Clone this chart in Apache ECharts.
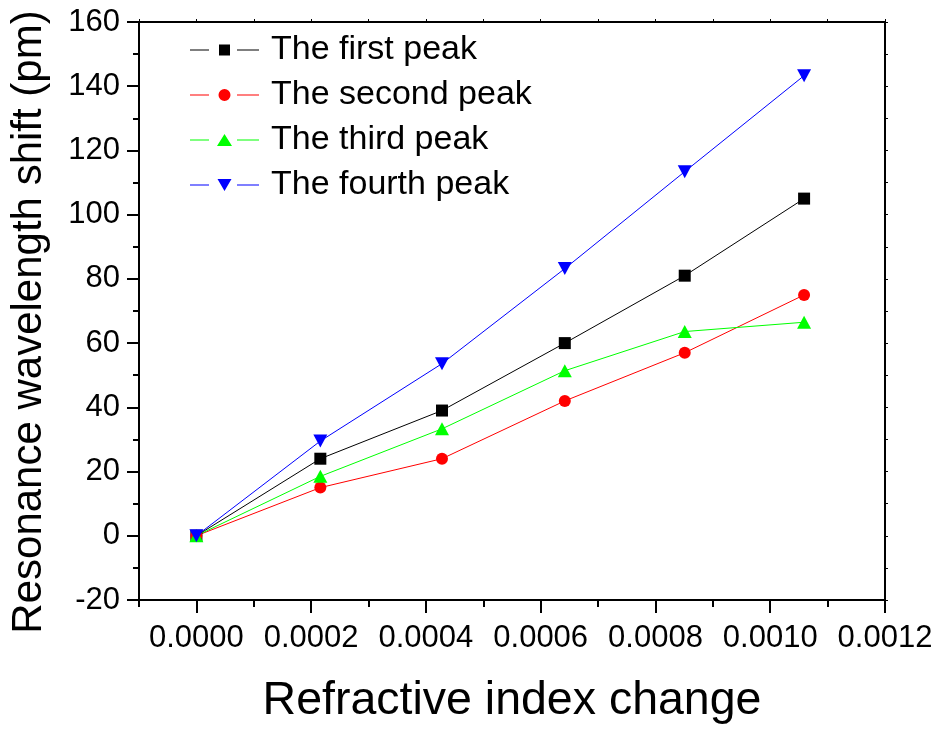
<!DOCTYPE html>
<html>
<head>
<meta charset="utf-8">
<script src="https://cdn.jsdelivr.net/npm/echarts@6/dist/echarts.min.js"></script>
<style>html,body{margin:0;padding:0;background:#fff}#c{width:941px;height:730px}</style>
</head>
<body>
<div id="c"></div>
<script>
const xValues = [0, 0.000216, 0.000428, 0.000642, 0.000851, 0.001059];
const firstPeak = [0, 24, 39, 60, 81, 105];
const secondPeak = [0, 15, 24, 42, 57, 75];
const thirdPeak = [0, 18.5, 33.3, 51.4, 63.6, 66.5];
const fourthPeak = [0, 29.5, 53.6, 83.2, 113.4, 143.3];
const seriesNames = ['The first peak', 'The second peak', 'The third peak', 'The fourth peak'];
const xTickLabels = [0, 0.0002, 0.0004, 0.0006, 0.0008, 0.0010, 0.0012];
const yTickLabels = [-20, 0, 20, 40, 60, 80, 100, 120, 140, 160];

const FONT = 'Liberation Sans, Arial, sans-serif';
const chart = echarts.init(document.getElementById('c'), null, {renderer: 'canvas'});

function pairs(ys) { return xValues.map((x, i) => [x, ys[i]]); }

const lineStyleAxis = {color: '#000', width: 2};
const triDown = 'path://M0,0L20,0L10,17.32Z';

// legend icons: line segment, gap, marker, gap, line segment (box 69 x 12)
const seg = 'M0,5.5L19,5.5L19,6.5L0,6.5Z M47,5.5L69,5.5L69,6.5L47,6.5Z ';
const legendIcons = [
  'path://' + seg + 'M29,0.5L40,0.5L40,11.5L29,11.5Z M34.5,0L34.5,12',
  'path://' + seg + 'M28.5,6A6,6 0 1,0 40.5,6A6,6 0 1,0 28.5,6Z',
  'path://' + seg + 'M27,12L42,12L34.5,0Z',
  'path://' + seg + 'M27.5,0L41.5,0L34.5,12Z'
];

const option = {
  animation: false,
  backgroundColor: '#fff',
  grid: {left: 137, right: 56, top: 22, bottom: 128, containLabel: false},
  legend: {
    orient: 'vertical',
    left: 185,
    top: 28,
    itemWidth: 69,
    itemHeight: 12,
    itemGap: 11,
    symbolKeepAspect: false,
    data: seriesNames.map((n, i) => ({name: n, icon: legendIcons[i]})),
    itemStyle: {borderWidth: 0},
    textStyle: {fontFamily: FONT, fontSize: 34, color: '#000', lineHeight: 34, padding: [0, 0, 0, 7]}
  },
  xAxis: [
    {
      type: 'value', position: 'bottom', min: -0.0001, max: 0.0012,
      axisLine: {show: true, onZero: false, lineStyle: lineStyleAxis},
      axisTick: {show: true, inside: false, length: 13, lineStyle: {width: 2, color: '#000'}, customValues: xTickLabels},
      axisLabel: {show: true, customValues: xTickLabels, margin: 23, fontFamily: FONT, fontSize: 31, color: '#000',
        formatter: v => v.toFixed(4)},
      splitLine: {show: false},
      name: 'Refractive index change', nameLocation: 'middle', nameGap: 78,
      nameTextStyle: {fontFamily: FONT, fontSize: 46.5, color: '#000'}
    },
    {
      type: 'value', position: 'bottom', min: -0.0001, max: 0.0012, interval: 0.0001,
      axisLine: {show: false, onZero: false},
      axisTick: {show: true, inside: false, length: 7, lineStyle: {width: 2, color: '#000'}},
      axisLabel: {show: false}, splitLine: {show: false}
    },
    {
      type: 'value', position: 'top', min: -0.0001, max: 0.0012, interval: 0.0001,
      axisLine: {show: true, onZero: false, lineStyle: lineStyleAxis},
      axisTick: {show: true, inside: false, length: 3, lineStyle: {width: 1, color: '#000'}},
      axisLabel: {show: false}, splitLine: {show: false}
    }
  ],
  yAxis: [
    {
      type: 'value', position: 'left', min: -20, max: 160, interval: 20,
      axisLine: {show: true, onZero: false, lineStyle: lineStyleAxis},
      axisTick: {show: true, inside: false, length: 12, lineStyle: {width: 2, color: '#000'}},
      minorTick: {show: true, splitNumber: 2, length: 6, lineStyle: {width: 2, color: '#000'}},
      axisLabel: {margin: 19, fontFamily: FONT, fontSize: 31, color: '#000',
        formatter: v => yTickLabels.includes(v) ? String(v) : ''},
      splitLine: {show: false}, minorSplitLine: {show: false},
      name: 'Resonance wavelength shift (pm)', nameLocation: 'middle', nameGap: 89,
      nameTextStyle: {fontFamily: FONT, fontSize: 42, color: '#000', padding: [0, 22, 0, 0]}
    },
    {
      type: 'value', position: 'right', min: -20, max: 160, interval: 10,
      axisLine: {show: true, onZero: false, lineStyle: lineStyleAxis},
      axisTick: {show: true, inside: false, length: 3, lineStyle: {width: 1, color: '#000'}},
      axisLabel: {show: false}, splitLine: {show: false}
    }
  ],
  series: [
    {name: seriesNames[0], type: 'line', data: pairs(firstPeak), symbol: 'rect', symbolSize: 12,
      itemStyle: {color: '#000000'}, lineStyle: {color: '#000000', width: 1}},
    {name: seriesNames[1], type: 'line', data: pairs(secondPeak), symbol: 'circle', symbolSize: 12,
      itemStyle: {color: '#ff0000'}, lineStyle: {color: '#ff0000', width: 1}},
    {name: seriesNames[2], type: 'line', data: pairs(thirdPeak), symbol: 'triangle', symbolSize: [14, 13],
      itemStyle: {color: '#00ff00'}, lineStyle: {color: '#00ff00', width: 1}},
    {name: seriesNames[3], type: 'line', data: pairs(fourthPeak), symbol: triDown, symbolSize: [14, 13],
      itemStyle: {color: '#0000ff'}, lineStyle: {color: '#0000ff', width: 1}}
  ]
};
chart.setOption(option);
</script>
</body>
</html>
